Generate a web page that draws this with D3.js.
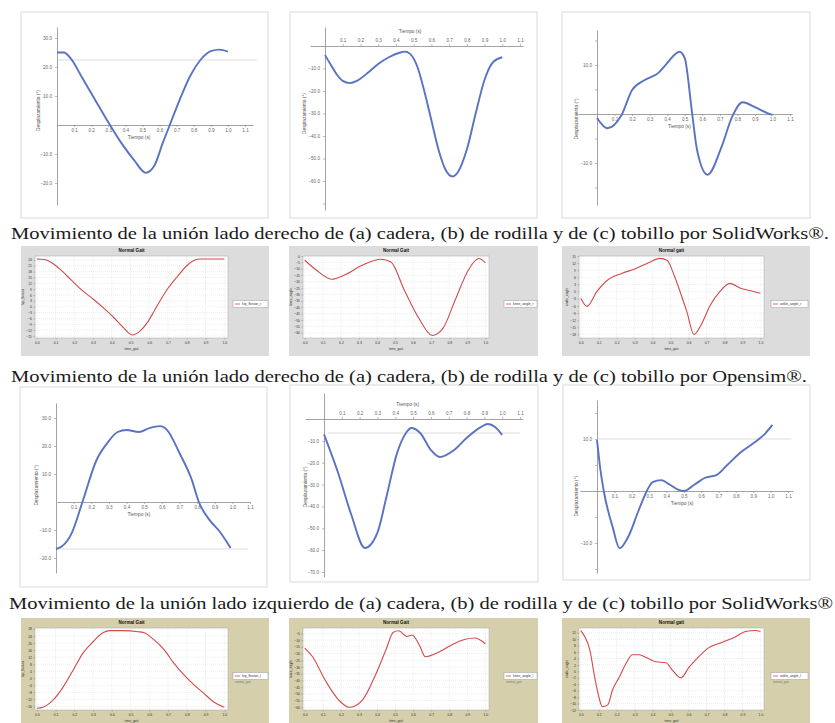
<!DOCTYPE html>
<html>
<head>
<meta charset="utf-8">
<script src="https://cdn.jsdelivr.net/npm/d3@7"></script>
<style>
  body { margin: 0; background: #fff; }
  svg { display: block; }
</style>
</head>
<body>
<script>
// ---------- Datos: ángulos articulares (grados) vs tiempo (s) ----------

// SolidWorks, lado derecho
const swDerCaderaT  = [0, 0.04, 0.08, 0.15, 0.22, 0.31, 0.38, 0.45, 0.52, 0.57, 0.62, 0.66, 0.72, 0.78, 0.84, 0.90, 0.95, 1.0];
const swDerCaderaV  = [25, 25, 23, 16, 9, 0, -6.5, -12, -16.5, -14, -6, 0, 9, 17, 22.5, 25.5, 26, 25.3];
const swDerRodillaT = [0, 0.03, 0.07, 0.1, 0.14, 0.18, 0.24, 0.3, 0.36, 0.42, 0.45, 0.48, 0.52, 0.56, 0.6, 0.64, 0.68, 0.72, 0.75, 0.8, 0.85, 0.9, 0.95, 1.0];
const swDerRodillaV = [-4, -8, -13, -15.5, -16.5, -15.5, -12, -8, -5, -3, -2.5, -3.5, -9, -20, -33, -46, -55, -58, -56, -46, -30, -15, -7, -5];
const swDerTobilloT = [0, 0.06, 0.14, 0.2, 0.27, 0.35, 0.40, 0.47, 0.50, 0.54, 0.57, 0.63, 0.71, 0.77, 0.83, 0.90, 0.97, 1.0];
const swDerTobilloV = [-0.8, -2.9, -0.2, 4.9, 6.9, 8.4, 10.4, 12.7, 11.4, 0.8, -7.3, -12.4, -6.7, -0.6, 2.4, 1.4, 0.2, -0.2];

// OpenSim, lado derecho
const osDerCaderaT  = [0, 0.04, 0.08, 0.12, 0.18, 0.24, 0.30, 0.36, 0.41, 0.46, 0.51, 0.55, 0.59, 0.63, 0.66, 0.70, 0.75, 0.80, 0.84, 0.87, 0.93, 1.0];
const osDerCaderaV  = [24.5, 24.2, 22.5, 19.5, 14, 8.5, 4, -1, -5.5, -10.5, -14.5, -12.5, -8, -1.5, 3.5, 9.5, 15.5, 21, 23.8, 24.5, 24.5, 24.5];
const osDerRodillaT = [0, 0.063, 0.149, 0.22, 0.32, 0.42, 0.477, 0.55, 0.634, 0.706, 0.763, 0.834, 0.906, 0.963, 1.0];
const osDerRodillaV = [-3.3, -10.9, -18.1, -14.8, -7.1, -2.5, -4.6, -26.3, -49.2, -62, -56.9, -33.9, -10.9, -2, -5.3];
const osDerTobilloT = [0, 0.034, 0.09, 0.146, 0.23, 0.31, 0.38, 0.44, 0.48, 0.52, 0.56, 0.59, 0.63, 0.67, 0.72, 0.775, 0.83, 0.89, 0.94, 1.0];
const osDerTobilloV = [-2.8, -6.2, 0.1, 4.7, 7.7, 9.8, 12.3, 14, 13.2, 6.8, -1.6, -8.3, -18, -14, -5.8, 0.1, 3.5, 1.4, 0.5, -0.7];

// SolidWorks, lado izquierdo
const swIzqCaderaT  = [0, 0.03, 0.09, 0.15, 0.23, 0.29, 0.35, 0.40, 0.47, 0.53, 0.59, 0.63, 0.70, 0.77, 0.81, 0.87, 0.93, 0.99];
const swIzqCaderaV  = [-16.8, -16, -11, 0, 15, 21, 25, 25.7, 25, 26.4, 27.1, 25.7, 17.5, 7.9, 0, -6.4, -10.7, -16.4];
const swIzqRodillaT = [0, 0.08, 0.15, 0.23, 0.30, 0.35, 0.41, 0.46, 0.49, 0.54, 0.60, 0.65, 0.73, 0.80, 0.88, 0.92, 0.96, 1.0];
const swIzqRodillaV = [-7, -24.8, -43, -59, -52, -35.8, -15.6, -6.4, -4.1, -6.4, -14.2, -17.4, -14.2, -8.7, -3.7, -2.3, -3.7, -7.3];
const swIzqTobilloT = [0, 0.02, 0.04, 0.09, 0.13, 0.18, 0.24, 0.29, 0.32, 0.37, 0.42, 0.47, 0.50, 0.56, 0.62, 0.69, 0.75, 0.83, 0.91, 0.97, 1.01];
const swIzqTobilloV = [9.8, 4, -0.2, -6.9, -11, -8.8, -3.7, 0.2, 1.7, 2.1, 1.2, 0.2, 0, 1.2, 2.5, 3.1, 5, 7.5, 9.4, 11.1, 12.7];

// OpenSim, lado izquierdo
const osIzqCaderaT  = [0, 0.032, 0.086, 0.14, 0.194, 0.247, 0.30, 0.355, 0.39, 0.46, 0.54, 0.57, 0.624, 0.68, 0.73, 0.785, 0.84, 0.89, 0.946, 1.0];
const osIzqCaderaV  = [-17, -16.4, -12.4, -5, 4.7, 14.4, 20.7, 25.9, 27, 27, 26.4, 25.9, 21.9, 16.1, 8.7, 1.9, -3.9, -8.4, -13.6, -16.4];
const osIzqRodillaT = [0, 0.043, 0.116, 0.188, 0.246, 0.319, 0.39, 0.45, 0.49, 0.52, 0.565, 0.594, 0.638, 0.667, 0.74, 0.81, 0.884, 0.942, 1.0];
const osIzqRodillaV = [-15.9, -22.4, -40.6, -54.6, -60, -54.6, -36.3, -17, -4.1, -3, -7.3, -6.2, -14.8, -22.4, -19.1, -13.8, -9.5, -8.4, -12.7];
const osIzqTobilloT = [0, 0.022, 0.05, 0.077, 0.105, 0.12, 0.15, 0.177, 0.215, 0.254, 0.287, 0.326, 0.365, 0.42, 0.475, 0.508, 0.558, 0.6, 0.657, 0.713, 0.785, 0.862, 0.917, 0.972, 1.0];
const osIzqTobilloV = [12.7, 10.8, 6.8, -1.7, -8.9, -11, -10.4, -5.7, -1.7, 2.7, 5.2, 5.2, 4.3, 3, 2.7, 0.5, -2, 1.1, 4.6, 7.4, 9, 10.8, 12.4, 12.7, 12.4];

// Marcas de los ejes
const swTiempoTicks   = [0.1, 0.2, 0.3, 0.4, 0.5, 0.6, 0.7, 0.8, 0.9, 1.0, 1.1];
const swCaderaTicks   = [30, 20, 10, -10, -20];
const swRodillaDerTicks = [-10, -20, -30, -40, -50, -60, -70];
const swRodillaIzqTicks = [-10, -20, -30, -40, -50, -60, -70];
const swTobilloTicks  = [15, 10, 5, -5, -10, -15];
const swTobilloLabels = [10, -10];

const osTiempoTicks   = [0, 0.1, 0.2, 0.3, 0.4, 0.5, 0.6, 0.7, 0.8, 0.9, 1.0];
const osDerCaderaTicks  = [-15, -12, -9, -6, -3, 0, 3, 6, 9, 12, 15, 18, 21, 24];
const osDerRodillaTicks = [-60, -55, -50, -45, -40, -35, -30, -25, -20, -15, -10, -5, 0];
const osDerTobilloTicks = [-18, -15, -12, -9, -6, -3, 0, 3, 6, 9, 12, 15];
const osIzqCaderaTicks  = [-16, -12, -8, -4, 0, 4, 8, 12, 16, 20, 24, 28];
const osIzqRodillaTicks = [-60, -55, -50, -45, -40, -35, -30, -25, -20, -15, -10, -5];
const osIzqTobilloTicks = [-12, -10, -8, -6, -4, -2, 0, 2, 4, 6, 8, 10, 12];

const captions = [
  "Movimiento de la unión lado derecho de (a) cadera, (b) de rodilla y de (c) tobillo por SolidWorks®.",
  "Movimiento de la unión lado derecho de (a) cadera, (b) de rodilla y de (c) tobillo por Opensim®.",
  "Movimiento de la unión lado izquierdo de (a) cadera, (b) de rodilla y de (c) tobillo por SolidWorks®"
];

// ---------- Dibujo ----------
const svg = d3.select("body").append("svg")
  .attr("width", 835).attr("height", 723)
  .style("font-family", "'Liberation Sans', Arial, sans-serif");

function styleAxis(sel, color, size) {
  sel.select(".domain").attr("stroke", color).attr("stroke-width", 0.8);
  sel.selectAll(".tick line").attr("stroke", color).attr("stroke-width", 0.6);
  sel.selectAll(".tick text").attr("fill", "#666").style("font-size", size + "px");
}

// Gráfica estilo SolidWorks: ejes cruzando en el origen, curva azul
function drawSolid(p, t, v) {
  const g = svg.append("g");
  g.append("rect")
    .attr("x", p.box[0]).attr("y", p.box[1]).attr("width", p.box[2]).attr("height", p.box[3])
    .attr("fill", "#fff").attr("stroke", "#dadada").attr("stroke-width", 1);

  const fx = d3.scaleLinear().domain([0, 1.1]).range(p.xRef);
  const fy = d3.scaleLinear().domain(p.yRefVal).range(p.yRefPx);
  const x = d3.scaleLinear().domain([fx.invert(p.xAxis[0]), fx.invert(p.xAxis[1])]).range(p.xAxis);
  const y = d3.scaleLinear().domain([fy.invert(p.yAxis[1]), fy.invert(p.yAxis[0])]).range([p.yAxis[1], p.yAxis[0]]);

  (p.refLines || []).forEach(r => {
    g.append("line").attr("x1", x(r.t0)).attr("x2", x(r.t1))
      .attr("y1", y(r.v)).attr("y2", y(r.v))
      .attr("stroke", "#d4d4d4").attr("stroke-width", 0.8);
  });

  const fmt = d3.format(".1f");
  const yAx = d3.axisLeft(y).tickValues(p.yTicks).tickSize(2).tickSizeOuter(0).tickPadding(3)
    .tickFormat(d => p.yLabels.includes(d) ? fmt(d) : "");
  styleAxis(g.append("g").attr("transform", `translate(${x(0)},0)`).call(yAx), "#8c8c8c", 4.6);

  const xAx = (p.above ? d3.axisTop(x) : d3.axisBottom(x))
    .tickValues(swTiempoTicks).tickSize(2).tickSizeOuter(0).tickPadding(2).tickFormat(fmt);
  styleAxis(g.append("g").attr("transform", `translate(0,${y(0)})`).call(xAx), "#8c8c8c", 4.6);

  g.append("text").attr("x", x(p.xTitle[0])).attr("y", y(0) + p.xTitle[1])
    .attr("text-anchor", "middle").attr("fill", "#555").style("font-size", "4.8px")
    .text("Tiempo (s)");
  g.append("text")
    .attr("transform", `translate(${x(0) + p.yTitle[0]},${y(p.yTitle[1])}) rotate(-90)`)
    .attr("text-anchor", "middle").attr("fill", "#555").style("font-size", "4.8px")
    .text("Desplazamiento (°)");

  const line = d3.line().x((d, i) => x(t[i])).y(d => y(d)).curve(d3.curveMonotoneX);
  g.append("path").datum(v).attr("d", line)
    .attr("fill", "none").attr("stroke", "#5a72c2").attr("stroke-width", 1.9)
    .attr("stroke-linejoin", "round");
}

// Gráfica estilo OpenSim: fondo de color, área blanca con rejilla, curva roja
function drawOpen(p, t, v, yTicks) {
  const g = svg.append("g");
  g.append("rect").attr("x", p.bg[0]).attr("y", p.bg[1]).attr("width", p.bg[2]).attr("height", p.bg[3])
    .attr("fill", p.fill);
  const [px0, px1] = p.plotX, [py0, py1] = p.plotY;
  g.append("rect").attr("x", px0).attr("y", py0).attr("width", px1 - px0).attr("height", py1 - py0)
    .attr("fill", "#fff");

  const x = d3.scaleLinear().domain([-0.01, 1.02]).range([px0, px1]);
  const y = d3.scaleLinear().domain(p.yDom).range([py1, py0]);

  g.append("g").selectAll("line").data(osTiempoTicks).join("line")
    .attr("x1", d => x(d)).attr("x2", d => x(d)).attr("y1", py0).attr("y2", py1)
    .attr("stroke", "#dcdcdc").attr("stroke-width", 0.5).attr("stroke-dasharray", "1,1");
  g.append("g").selectAll("line").data(yTicks).join("line")
    .attr("x1", px0).attr("x2", px1).attr("y1", d => y(d)).attr("y2", d => y(d))
    .attr("stroke", "#dcdcdc").attr("stroke-width", 0.5).attr("stroke-dasharray", "1,1");
  g.append("rect").attr("x", px0).attr("y", py0).attr("width", px1 - px0).attr("height", py1 - py0)
    .attr("fill", "none").attr("stroke", "#a8a8a8").attr("stroke-width", 0.5);

  const yAx = d3.axisLeft(y).tickValues(yTicks).tickSize(1.5).tickSizeOuter(0).tickPadding(1.5);
  const ga = g.append("g").attr("transform", `translate(${px0},0)`).call(yAx);
  ga.select(".domain").remove();
  ga.selectAll(".tick line").attr("stroke", "#777").attr("stroke-width", 0.4);
  ga.selectAll(".tick text").attr("fill", "#333").style("font-size", "3.4px");

  const xAx = d3.axisBottom(x).tickValues(osTiempoTicks).tickSize(1.5).tickSizeOuter(0).tickPadding(2)
    .tickFormat(d3.format(".1f"));
  const gb = g.append("g").attr("transform", `translate(0,${py1})`).call(xAx);
  gb.select(".domain").remove();
  gb.selectAll(".tick line").attr("stroke", "#777").attr("stroke-width", 0.4);
  gb.selectAll(".tick text").attr("fill", "#333").style("font-size", "3.4px");

  g.append("text").attr("x", (px0 + px1) / 2).attr("y", p.bg[1] + 6)
    .attr("text-anchor", "middle").attr("fill", "#111").attr("font-weight", "bold")
    .style("font-size", "4.6px").text(p.title);
  g.append("text").attr("x", (px0 + px1) / 2).attr("y", py1 + 12)
    .attr("text-anchor", "middle").attr("fill", "#333").style("font-size", "3.4px")
    .text("time_gait");
  g.append("text")
    .attr("transform", `translate(${px0 - 11},${(py0 + py1) / 2}) rotate(-90)`)
    .attr("text-anchor", "middle").attr("fill", "#333").style("font-size", "3.4px")
    .text(p.yTitle);

  const line = d3.line().x((d, i) => x(t[i])).y(d => y(d)).curve(d3.curveMonotoneX);
  g.append("path").datum(v).attr("d", line)
    .attr("fill", "none").attr("stroke", "#d24a4a").attr("stroke-width", 1.1);

  // leyenda
  const [lx0, lx1] = p.legendX, ly = (py0 + py1) / 2 + 7;
  g.append("rect").attr("x", lx0).attr("y", ly - 3.5).attr("width", lx1 - lx0).attr("height", 7)
    .attr("fill", "#fff").attr("stroke", "#999").attr("stroke-width", 0.5);
  g.append("line").attr("x1", lx0 + 2).attr("x2", lx0 + 7).attr("y1", ly).attr("y2", ly)
    .attr("stroke", "#d24a4a").attr("stroke-width", 0.8);
  g.append("text").attr("x", lx0 + 9).attr("y", ly + 1.2).attr("fill", "#333")
    .style("font-size", "3.4px").text(p.legend);
  if (p.legend2) {
    g.append("text").attr("x", lx0 + 2).attr("y", ly + 7).attr("fill", "#777")
      .style("font-size", "3px").text(p.legend2);
  }
}

// Fila 1: SolidWorks, derecho
drawSolid({ box: [21, 12, 247, 206], xRef: [57, 245], yRefVal: [0, 30], yRefPx: [125, 38],
  yAxis: [27, 205], xAxis: [57, 253], above: false, yTicks: swCaderaTicks, yLabels: swCaderaTicks,
  refLines: [{ v: 22.4, t0: 0, t1: 1.17 }], xTitle: [0.48, 14], yTitle: [-17, 5] },
  swDerCaderaT, swDerCaderaV);
drawSolid({ box: [290, 12, 247, 206], xRef: [325, 520], yRefVal: [0, -60], yRefPx: [46, 181],
  yAxis: [27, 210], xAxis: [310, 523], above: true, yTicks: swRodillaDerTicks, yLabels: swRodillaDerTicks.slice(0, 6),
  xTitle: [0.48, -13], yTitle: [-19, -30] },
  swDerRodillaT, swDerRodillaV);
drawSolid({ box: [562, 12, 248, 206], xRef: [597, 790], yRefVal: [0, 10], yRefPx: [114, 65],
  yAxis: [30, 205], xAxis: [578, 792], above: false, yTicks: swTobilloTicks, yLabels: swTobilloLabels,
  xTitle: [0.47, 14], yTitle: [-19, -1] },
  swDerTobilloT, swDerTobilloV);

// Fila 2: OpenSim, derecho
const grisOS = "#dcdcdc", arenaOS = "#d6cfac";
drawOpen({ bg: [21, 246, 248, 110], fill: grisOS, plotX: [35, 228], plotY: [256, 338], yDom: [-16, 26],
  legendX: [233, 268], title: "Normal Gait", yTitle: "hip_flexion", legend: "hip_flexion_r" },
  osDerCaderaT, osDerCaderaV, osDerCaderaTicks);
drawOpen({ bg: [289, 246, 249, 110], fill: grisOS, plotX: [303, 489], plotY: [256, 338], yDom: [-64, 0],
  legendX: [504, 537], title: "Normal Gait", yTitle: "knee_angle", legend: "knee_angle_r" },
  osDerRodillaT, osDerRodillaV, osDerRodillaTicks);
drawOpen({ bg: [562, 246, 248, 110], fill: grisOS, plotX: [579, 764], plotY: [256, 338], yDom: [-19.5, 15],
  legendX: [771, 808], title: "Normal gait", yTitle: "ankle_angle", legend: "ankle_angle_r" },
  osDerTobilloT, osDerTobilloV, osDerTobilloTicks);

// Fila 3: SolidWorks, izquierdo
drawSolid({ box: [20, 387, 247, 200], xRef: [56, 250], yRefVal: [0, 30], yRefPx: [502, 418],
  yAxis: [403, 573], xAxis: [57, 250], above: false, yTicks: swCaderaTicks, yLabels: swCaderaTicks,
  refLines: [{ v: -16.8, t0: 0, t1: 1.09 }], xTitle: [0.47, 14], yTitle: [-18, 6] },
  swIzqCaderaT, swIzqCaderaV);
drawSolid({ box: [290, 385, 248, 197], xRef: [324, 520], yRefVal: [0, -70], yRefPx: [419, 572],
  yAxis: [393, 577], xAxis: [305, 523], above: true, yTicks: swRodillaIzqTicks, yLabels: swRodillaIzqTicks,
  refLines: [{ v: -6.4, t0: 0.02, t1: 1.1 }], xTitle: [0.47, -13], yTitle: [-17, -31] },
  swIzqRodillaT, swIzqRodillaV);
drawSolid({ box: [563, 385, 247, 195], xRef: [597, 788], yRefVal: [0, 10], yRefPx: [491, 439],
  yAxis: [400, 573], xAxis: [580, 793], above: false, yTicks: swTobilloTicks, yLabels: swTobilloLabels,
  refLines: [{ v: 10, t0: 0, t1: 1.12 }], xTitle: [0.49, 14], yTitle: [-19, -1] },
  swIzqTobilloT, swIzqTobilloV);

// Fila 4: OpenSim, izquierdo
drawOpen({ bg: [21, 618, 248, 110], fill: arenaOS, plotX: [35, 228], plotY: [628, 710], yDom: [-18, 28.5],
  legendX: [233, 268], title: "Normal Gait", yTitle: "hip_flexion", legend: "hip_flexion_l", legend2: "normal_gait" },
  osIzqCaderaT, osIzqCaderaV, osIzqCaderaTicks);
drawOpen({ bg: [289, 618, 249, 110], fill: arenaOS, plotX: [303, 489], plotY: [628, 710], yDom: [-62, -1],
  legendX: [504, 537], title: "Normal Gait", yTitle: "knee_angle", legend: "knee_angle_l", legend2: "normal_gait" },
  osIzqRodillaT, osIzqRodillaV, osIzqRodillaTicks);
drawOpen({ bg: [562, 618, 248, 110], fill: arenaOS, plotX: [579, 764], plotY: [628, 710], yDom: [-12, 13.5],
  legendX: [771, 808], title: "Normal gait", yTitle: "ankle_angle", legend: "ankle_angle_l", legend2: "normal_gait" },
  osIzqTobilloT, osIzqTobilloV, osIzqTobilloTicks);

// Pies de figura
const capPos = [[11, 239, 818], [11, 382, 796], [9, 609, 824]];
captions.forEach((c, i) => {
  svg.append("text").attr("x", capPos[i][0]).attr("y", capPos[i][1])
    .attr("textLength", capPos[i][2]).attr("lengthAdjust", "spacingAndGlyphs")
    .attr("fill", "#1a1a1a").style("font-family", "'Liberation Serif', 'DejaVu Serif', serif")
    .style("font-size", "17px").text(c);
});
</script>
</body>
</html>
